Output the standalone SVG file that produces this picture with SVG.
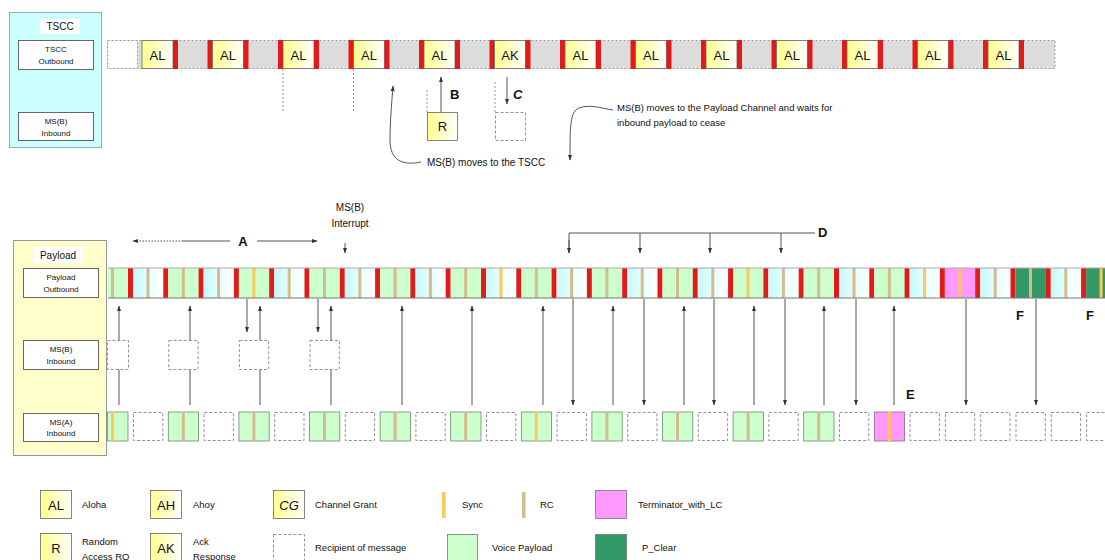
<svg xmlns="http://www.w3.org/2000/svg" width="1105" height="560" viewBox="0 0 1105 560">
<style>
text{font-family:"Liberation Sans",Arial,sans-serif;fill:#111}
.s8{font-size:8px;text-anchor:middle}
.s10{font-size:10px}
.s9{font-size:9.5px}
.mid{text-anchor:middle}
.big{font-size:13px;text-anchor:middle}
.lbl{font-size:13px;font-weight:bold}
.ar{stroke:#555;stroke-width:1;fill:none}
.arm{stroke:#555;stroke-width:1;fill:none;marker-end:url(#ah)}
.dash{fill:#fff;stroke:#777;stroke-width:0.8;stroke-dasharray:3,2}
.dot{stroke:#777;stroke-width:0.8;stroke-dasharray:2,2;fill:none}
.box{fill:#fff;stroke:#666;stroke-width:1}
.yl{fill:url(#yl);stroke:#666;stroke-width:0.8}
.red{fill:#E21A1A}
</style>
<defs>
<linearGradient id="yl" x1="0" y1="0" x2="1" y2="0"><stop offset="0" stop-color="#FFFF8C"/><stop offset="1" stop-color="#FFFFFF"/></linearGradient>
<linearGradient id="cw" x1="0" y1="0" x2="1" y2="0"><stop offset="0" stop-color="#C6F8F8"/><stop offset="0.5" stop-color="#E6FFFF"/><stop offset="1" stop-color="#FFFFFF"/></linearGradient>
<marker id="ah" viewBox="0 0 10 10" refX="9" refY="5" markerWidth="6" markerHeight="6" markerUnits="userSpaceOnUse" orient="auto"><path d="M0,1.5 L10,5 L0,8.5z" fill="#333"/></marker>
<!-- outbound slot units (origin = red bar start) -->
<rect id="oRed" y="268" width="5" height="30" class="red"/>
<rect id="oG" x="5" y="268" width="30.4" height="30" fill="#CCFFCC"/>
<rect id="oC" x="5" y="268" width="30.4" height="30" fill="url(#cw)"/>
<rect id="oP" x="5" y="268" width="30.4" height="30" fill="#FF99FF"/>
<rect id="oD" x="5" y="268" width="30.4" height="30" fill="#339966"/>
<rect id="oRc" x="18.5" y="268" width="3" height="30" fill="#D4BC8E"/>
<rect id="oSy" x="18.5" y="268" width="3" height="30" fill="#FFC65A"/>
<g id="Gr"><use href="#oRed"/><use href="#oG"/><use href="#oRc"/></g>
<g id="Gs"><use href="#oRed"/><use href="#oG"/><use href="#oSy"/></g>
<g id="Cr"><use href="#oRed"/><use href="#oC"/><use href="#oRc"/></g>
<g id="Cs"><use href="#oRed"/><use href="#oC"/><use href="#oSy"/></g>
<g id="Ps"><use href="#oRed"/><use href="#oP"/><use href="#oSy"/></g>
<g id="Dr"><use href="#oRed"/><use href="#oD"/><use href="#oRc"/></g>
<g id="Ds"><use href="#oRed"/><use href="#oD"/><use href="#oSy"/></g>
<!-- MS(A) units -->
<g id="agr"><rect x="5" y="412" width="30.3" height="29" fill="#CCFFCC" stroke="#6a8a6a" stroke-width="0.8"/><rect x="18.5" y="412" width="3" height="29" fill="#D4BC8E"/></g>
<g id="ags"><rect x="5" y="412" width="30.3" height="29" fill="#CCFFCC" stroke="#6a8a6a" stroke-width="0.8"/><rect x="18.5" y="412" width="3" height="29" fill="#FFC65A"/></g>
<g id="aps"><rect x="5" y="412" width="30.3" height="29" fill="#FF99FF" stroke="#8a6a8a" stroke-width="0.8"/><rect x="18.5" y="412" width="3" height="29" fill="#FFC65A"/></g>
<rect id="ad" x="5.5" y="412.5" width="29.3" height="28" class="dash"/>
<!-- TSCC unit -->
<g id="tu"><rect x="-5" y="40" width="5" height="29" class="red"/><rect x="0" y="40.5" width="31" height="28" class="yl"/><rect x="31" y="40" width="5" height="29" class="red"/></g>
</defs>

<rect width="1105" height="560" fill="#fff"/>

<!-- TSCC panel -->
<g id="tscc-panel">
<rect x="9.5" y="12.5" width="92" height="135" fill="#CCFFFF" stroke="#9ab"/>
<rect x="40" y="19" width="40" height="15" fill="#fff"/>
<text x="60" y="30" class="s10 mid">TSCC</text>
<g id="tscc-outbound-label"><rect x="18.5" y="40.5" width="75" height="29" class="box"/>
<text x="56" y="52" class="s8">TSCC</text><text x="56" y="64" class="s8">Outbound</text></g>
<g id="tscc-msb-inbound-label"><rect x="18.5" y="112.5" width="75" height="28" class="box"/>
<text x="56" y="124" class="s8">MS(B)</text><text x="56" y="136" class="s8">Inbound</text></g>
</g>

<!-- TSCC outbound channel -->
<g id="tscc-outbound">
<rect x="107.5" y="40.5" width="947.5" height="28" fill="#DCDCDC" stroke="#888" stroke-width="0.8" stroke-dasharray="2,2"/>
<rect x="107.5" y="40.5" width="30" height="28" fill="#fff" stroke="#888" stroke-width="0.8" stroke-dasharray="2,2"/>
<rect x="142" y="40.5" width="31" height="28" class="yl"/><rect x="173" y="40" width="5" height="29" class="red"/>
<use href="#tu" x="212.5"/><use href="#tu" x="283"/><use href="#tu" x="353.5"/><use href="#tu" x="424"/>
<use href="#tu" x="494.5"/><use href="#tu" x="565"/><use href="#tu" x="635.5"/><use href="#tu" x="706"/>
<use href="#tu" x="776.5"/><use href="#tu" x="847"/><use href="#tu" x="917.5"/><use href="#tu" x="988"/>
<g class="big">
<text x="157.5" y="60" class="big">AL</text><text x="228" y="60" class="big">AL</text><text x="298.5" y="60" class="big">AL</text>
<text x="369" y="60" class="big">AL</text><text x="439.5" y="60" class="big">AL</text><text x="510" y="60" class="big">AK</text>
<text x="580.5" y="60" class="big">AL</text><text x="651" y="60" class="big">AL</text><text x="721.5" y="60" class="big">AL</text>
<text x="792" y="60" class="big">AL</text><text x="862.5" y="60" class="big">AL</text><text x="933" y="60" class="big">AL</text>
<text x="1003.5" y="60" class="big">AL</text>
</g>
</g>

<!-- TSCC MS(B) inbound -->
<g id="tscc-msb-inbound">
<line x1="283" y1="69" x2="283" y2="113" class="dot"/>
<line x1="353.5" y1="69" x2="353.5" y2="113" class="dot"/>
<line x1="427" y1="90" x2="427" y2="112" class="dot"/>
<line x1="495" y1="82" x2="495" y2="112" class="dot"/>
<g id="r-box"><rect x="427.5" y="112.5" width="30" height="28" class="yl"/><text x="442.5" y="131" class="big">R</text></g>
<rect id="c-box" x="495.5" y="112.5" width="30" height="28" class="dash"/>
</g>

<!-- Payload panel -->
<g id="payload-panel">
<rect x="13.5" y="240.5" width="93" height="215" fill="#FFFFCC" stroke="#999"/>
<rect x="33" y="247" width="50" height="16" fill="#fff"/>
<text x="58" y="259" class="s10 mid">Payload</text>
<g id="payload-outbound-label"><rect x="23.5" y="268.5" width="75" height="29" class="box"/>
<text x="61" y="280" class="s8">Payload</text><text x="61" y="292" class="s8">Outbound</text></g>
<g id="msb-inbound-label"><rect x="23.5" y="340.5" width="75" height="29" class="box"/>
<text x="61" y="352" class="s8">MS(B)</text><text x="61" y="364" class="s8">Inbound</text></g>
<g id="msa-inbound-label"><rect x="23.5" y="413.5" width="75" height="28" class="box"/>
<text x="61" y="425" class="s8">MS(A)</text><text x="61" y="436" class="s8">Inbound</text></g>
</g>

<!-- Payload outbound channel -->
<g id="payload-outbound">
<rect x="108" y="268" width="20" height="30" fill="#CCFFCC"/><rect x="111" y="268" width="3" height="30" fill="#D4BC8E"/>
<use href="#Cr" x="128"/><use href="#Gr" x="163.3"/><use href="#Cr" x="198.6"/><use href="#Gs" x="233.9"/>
<use href="#Cr" x="269.2"/><use href="#Gr" x="304.5"/><use href="#Cr" x="339.8"/><use href="#Gr" x="375.1"/>
<use href="#Cr" x="410.4"/><use href="#Gr" x="445.7"/><use href="#Cs" x="481"/><use href="#Gr" x="516.3"/>
<use href="#Cr" x="551.6"/><use href="#Gr" x="586.9"/><use href="#Cr" x="622.2"/><use href="#Gr" x="657.5"/>
<use href="#Cr" x="692.8"/><use href="#Gs" x="728.1"/><use href="#Cr" x="763.4"/><use href="#Gr" x="798.7"/>
<use href="#Cr" x="834"/><use href="#Gr" x="869.3"/><use href="#Cs" x="904.6"/><use href="#Ps" x="939.9"/>
<use href="#Cr" x="975.2"/><use href="#Dr" x="1010.5"/><use href="#Cr" x="1045.8"/><use href="#Ds" x="1081.1"/>
<line x1="108" y1="268" x2="1105" y2="268" stroke="#aaa" stroke-width="1"/>
<line x1="108" y1="298" x2="1105" y2="298" stroke="#777" stroke-width="1.2"/>
</g>

<!-- connectors -->
<g id="connectors">
<!-- MS(A) -> outbound -->
<line x1="119" y1="405" x2="119" y2="306" class="arm"/>
<line x1="190" y1="405" x2="190" y2="306" class="arm"/>
<line x1="260" y1="405" x2="260" y2="306" class="arm"/>
<line x1="331" y1="405" x2="331" y2="306" class="arm"/>
<line x1="402" y1="405" x2="402" y2="306" class="arm"/>
<line x1="472" y1="405" x2="472" y2="306" class="arm"/>
<line x1="543" y1="405" x2="543" y2="306" class="arm"/>
<line x1="613" y1="405" x2="613" y2="306" class="arm"/>
<line x1="684" y1="405" x2="684" y2="306" class="arm"/>
<line x1="754" y1="405" x2="754" y2="306" class="arm"/>
<line x1="824" y1="405" x2="824" y2="306" class="arm"/>
<line x1="894" y1="405" x2="894" y2="306" class="arm"/>
<!-- outbound -> MS(A) -->
<line x1="573" y1="299" x2="573" y2="405" class="arm"/>
<line x1="644" y1="299" x2="644" y2="405" class="arm"/>
<line x1="714" y1="299" x2="714" y2="405" class="arm"/>
<line x1="785" y1="299" x2="785" y2="405" class="arm"/>
<line x1="856" y1="299" x2="856" y2="405" class="arm"/>
<line x1="966" y1="299" x2="966" y2="405" class="arm"/>
<line x1="1036" y1="299" x2="1036" y2="405" class="arm"/>
<!-- outbound -> MS(B) -->
<line x1="247" y1="299" x2="247" y2="332" class="arm"/>
<line x1="318" y1="299" x2="318" y2="332" class="arm"/>
<!-- D bracket -->
<polyline points="569,253 569,233 815,233" class="ar"/>
<line x1="569" y1="240" x2="569" y2="253" class="arm"/>
<line x1="640" y1="233" x2="640" y2="253" class="arm"/>
<line x1="710" y1="233" x2="710" y2="253" class="arm"/>
<line x1="781" y1="233" x2="781" y2="253" class="arm"/>
<!-- interrupt -->
<line x1="345" y1="243" x2="345" y2="253" class="arm"/>
<!-- A span -->
<line x1="183" y1="241" x2="133" y2="241" class="arm" stroke-dasharray="1.5,1.5"/>
<line x1="183" y1="241" x2="230" y2="241" class="ar"/>
<line x1="257" y1="241" x2="317" y2="241" class="arm"/>
<!-- B / C -->
<line x1="441" y1="112" x2="441" y2="77" class="arm"/>
<line x1="507" y1="77" x2="507" y2="104" class="arm"/>
<!-- curved notes -->
<path d="M421,162 C402,166 390,160 390,140 C390,120 392,100 393,86" class="arm"/>
<path d="M613,110 C600,108 590,104 579,108 C570,112 570,125 570,160" class="arm"/>
</g>

<!-- MS(B) inbound (payload) -->
<g id="msb-inbound">
<rect x="107.5" y="340.5" width="21" height="29" class="dash"/>
<rect x="168.8" y="340.5" width="29.3" height="29" class="dash"/>
<rect x="239.4" y="340.5" width="29.3" height="29" class="dash"/>
<rect x="310" y="340.5" width="29.3" height="29" class="dash"/>
</g>

<!-- MS(A) inbound -->
<g id="msa-inbound">
<rect x="107.5" y="412" width="20.5" height="29" fill="#CCFFCC" stroke="#6a8a6a" stroke-width="0.8"/><rect x="111" y="412" width="3" height="29" fill="#FFC65A"/>
<use href="#ad" x="128"/><use href="#agr" x="163.3"/><use href="#ad" x="198.6"/><use href="#agr" x="233.9"/>
<use href="#ad" x="269.2"/><use href="#agr" x="304.5"/><use href="#ad" x="339.8"/><use href="#agr" x="375.1"/>
<use href="#ad" x="410.4"/><use href="#agr" x="445.7"/><use href="#ad" x="481"/><use href="#ags" x="516.3"/>
<use href="#ad" x="551.6"/><use href="#agr" x="586.9"/><use href="#ad" x="622.2"/><use href="#agr" x="657.5"/>
<use href="#ad" x="692.8"/><use href="#agr" x="728.1"/><use href="#ad" x="763.4"/><use href="#agr" x="798.7"/>
<use href="#ad" x="834"/><use href="#aps" x="869.3"/><use href="#ad" x="904.6"/><use href="#ad" x="939.9"/>
<use href="#ad" x="975.2"/><use href="#ad" x="1010.5"/><use href="#ad" x="1045.8"/><use href="#ad" x="1081.1"/>
</g>

<!-- annotations -->
<g id="annotations">
<text x="450" y="99" class="lbl">B</text>
<text x="513" y="99" class="lbl" font-style="italic">C</text>
<text x="427" y="166" class="s10">MS(B) moves to the TSCC</text>
<text x="617" y="111" class="s9">MS(B) moves to the Payload Channel  and waits for</text>
<text x="617" y="126" class="s9">inbound payload to cease</text>
<text x="350" y="211" class="s10 mid">MS(B)</text>
<text x="350" y="227" class="s10 mid">Interrupt</text>
<text x="243" y="246" class="lbl mid">A</text>
<text x="818" y="237" class="lbl">D</text>
<text x="906" y="399" class="lbl">E</text>
<text x="1016" y="320" class="lbl">F</text>
<text x="1086" y="320" class="lbl">F</text>
</g>

<!-- legend -->
<g id="legend">
<g id="lg-al"><rect x="40.5" y="490.5" width="31" height="28" class="yl"/><text x="56" y="510" class="big">AL</text><text x="82" y="508" class="s9">Aloha</text></g>
<g id="lg-ah"><rect x="150.5" y="490.5" width="31" height="28" class="yl"/><text x="166" y="510" class="big">AH</text><text x="193" y="508" class="s9">Ahoy</text></g>
<g id="lg-cg"><rect x="273.5" y="490.5" width="31" height="28" class="yl"/><text x="289" y="510" class="big" font-style="italic">CG</text><text x="315" y="508" class="s9">Channel Grant</text></g>
<g id="lg-sync"><rect x="442" y="492" width="3.5" height="26" fill="#FFC65A"/><text x="462" y="508" class="s9">Sync</text></g>
<g id="lg-rc"><rect x="522" y="492" width="3.5" height="26" fill="#D4BC8E"/><text x="540" y="508" class="s9">RC</text></g>
<g id="lg-term"><rect x="595.5" y="490.5" width="31" height="28" fill="#FF99FF" stroke="#777" stroke-width="0.8"/><text x="638" y="508" class="s9">Terminator_with_LC</text></g>
<g id="lg-r"><rect x="40.5" y="533.5" width="31" height="28" class="yl"/><text x="56" y="553" class="big">R</text><text x="82" y="545" class="s9">Random</text><text x="82" y="560" class="s9">Access RQ</text></g>
<g id="lg-ak"><rect x="150.5" y="533.5" width="31" height="28" class="yl"/><text x="166" y="553" class="big">AK</text><text x="193" y="545" class="s9">Ack</text><text x="193" y="560" class="s9">Response</text></g>
<g id="lg-recipient"><rect x="273.5" y="534.5" width="31" height="28" class="dash"/><text x="315" y="551" class="s9">Recipient of message</text></g>
<g id="lg-voice"><rect x="447.5" y="534.5" width="30" height="28" fill="#CCFFCC" stroke="#777" stroke-width="0.8"/><text x="492" y="551" class="s9">Voice Payload</text></g>
<g id="lg-pclear"><rect x="595.5" y="534.5" width="31" height="28" fill="#339966" stroke="#777" stroke-width="0.8"/><text x="642" y="551" class="s9">P_Clear</text></g>
</g>
</svg>
